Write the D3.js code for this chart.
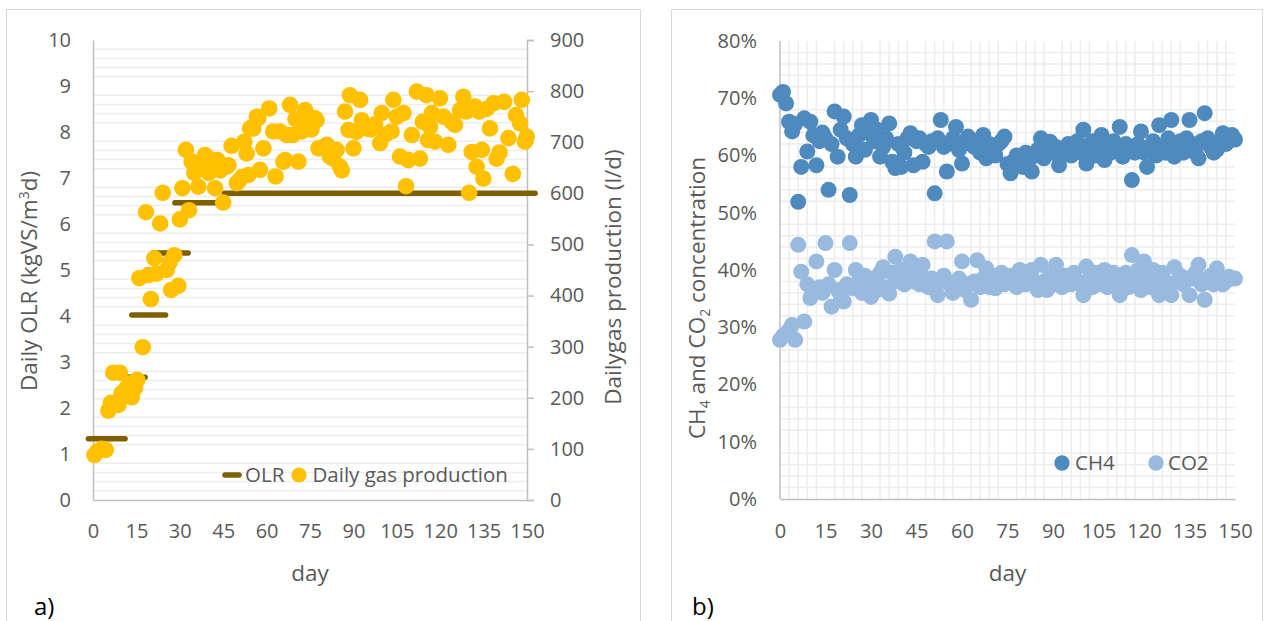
<!DOCTYPE html>
<html><head><meta charset="utf-8">
<script src="https://cdn.jsdelivr.net/npm/d3@7"></script>
<style>
html,body{margin:0;padding:0;background:#fff;}
svg{display:block;font-family:"Open Sans",sans-serif;}
</style></head>
<body>
<svg id="c" width="1267" height="621"></svg>
<script>
// ---------- DATA ----------
const dayTicks = [0,15,30,45,60,75,90,105,120,135,150];
const olrTicks = [0,1,2,3,4,5,6,7,8,9,10];
const gasTicks = [0,100,200,300,400,500,600,700,800,900];
const pctTicks = [0,0.1,0.2,0.3,0.4,0.5,0.6,0.7,0.8];

// OLR step segments (start day, end day, value)
const olrStart = [-1.6, 11.6, 13.4, 20.8, 28.3, 45.4];
const olrEnd   = [11.1, 18.0, 25.1, 32.9, 43.3, 152.8];
const olrValue = [1.33, 2.67, 4.02, 5.37, 6.46, 6.67];

// Daily gas production (l/d)
const gasDays = [0.5,1.5,3,4.4,5.3,6.2,7,8.8,9.3,9.9,11.6,12.5,13.4,14.5,15.3,16,17.2,18.3,19.1,20,
 21.2,22,23.2,24.1,25.5,26.5,27,28.1,29.5,30,30.9,32.1,33.2,34.1,35,36.4,37.5,38.7,39.3,40,
 41,42.2,43,44,45,46.2,46.8,47.9,49.7,50.5,51.5,52.3,53.1,53.7,54.3,55.4,56.6,57.1,57.7,58.9,
 60.9,62.3,63.1,64.6,65.8,66.4,67,68.1,69,70,71,72.1,72.7,73.3,74.5,75.5,76.7,77.3,77.9,79.5,
 80.8,81.9,83,84.2,85.4,86,87.1,88.3,88.8,90,91,92.3,92.9,94.6,96,97.5,99.2,99.8,101,103.2,
 103.8,105,106.1,107.3,108.2,109,110.2,111.9,113,114,115.3,115.8,116.5,117.1,118.2,119.9,121.1,122.8,124,125.1,
 126.9,128,129,130,130.9,132,132.6,133.5,134.4,134.9,136,137.2,138.4,139.5,140.5,142.1,143.6,145.1,146.2,147.6,
 148.2,149.3,149.9];
const gasValues = [88,95,100,98,175,190,249,186,249,209,219,228,201,219,235,434,299,563,440,393,
 473,443,541,601,450,465,411,479,419,549,610,685,567,662,640,613,650,675,672,640,
 655,610,665,645,582,652,655,693,620,625,632,701,678,636,727,727,750,747,646,688,
 766,721,633,721,662,665,714,773,714,745,662,721,747,763,740,725,747,743,688,690,
 695,672,668,685,652,645,760,724,792,688,720,783,743,727,725,735,698,757,715,721,
 783,750,672,757,614,665,714,799,668,740,792,704,730,757,701,786,750,695,740,734,
 763,789,760,601,681,770,652,760,685,629,765,727,776,668,680,779,708,638,753,737,
 783,701,711];

// CH4 and CO2 concentration (%), one value per day 0..150
const concDays = [0,1,2,3,4,5,6,7,8,9,10,11,12,13,14,15,16,17,18,19,20,21,22,23,24,25,26,27,28,29,
 30,31,32,33,34,35,36,37,38,39,40,41,42,43,44,45,46,47,48,49,50,51,52,53,54,55,56,57,58,59,
 60,61,62,63,64,65,66,67,68,69,70,71,72,73,74,75,76,77,78,79,80,81,82,83,84,85,86,87,88,89,
 90,91,92,93,94,95,96,97,98,99,100,101,102,103,104,105,106,107,108,109,110,111,112,113,114,115,116,117,118,119,
 120,121,122,123,124,125,126,127,128,129,130,131,132,133,134,135,136,137,138,139,140,141,142,143,144,145,146,147,148,149,150];
const ch4Values = [70.6,71.1,69.1,65.9,64.2,65.5,51.9,58.0,66.5,60.7,
 65.9,63.5,58.3,62.5,64.0,63.0,54.0,62.0,67.7,59.8,
 64.5,66.8,63.0,53.1,62.0,59.8,63.5,65.3,61.0,64.0,
 66.2,62.5,64.5,59.8,61.5,63.0,65.6,58.9,57.8,62.0,
 58.0,60.5,63.0,63.9,58.3,62.5,63.0,58.9,62.0,61.5,
 62.5,53.4,63.0,66.2,61.5,57.2,62.1,63.0,65.0,61.0,
 58.6,62.5,63.3,62.0,61.5,62.5,60.5,63.6,59.5,62.0,
 61.5,60.0,62.0,62.5,63.3,58.5,56.9,59.0,60.0,59.8,
 58.0,60.5,59.0,57.2,60.0,61.0,63.0,59.5,61.5,62.4,
 60.5,61.5,58.3,60.5,61.0,62.0,60.0,61.5,62.5,60.5,
 64.5,58.6,61.5,62.5,60.0,61.5,63.6,59.2,62.0,60.5,
 62.5,61.0,65.0,59.8,62.0,61.0,55.7,60.5,62.0,64.2,
 60.5,58.0,61.5,62.5,60.0,65.3,61.0,60.5,63.0,66.2,
 59.8,61.5,62.5,60.5,63.0,66.2,62.0,60.5,59.5,62.5,
 67.4,63.0,61.5,60.5,61.0,62.5,63.9,62.0,62.5,63.6,
 62.8];
const co2Values = [27.8,28.5,28.9,29.5,30.4,27.8,44.4,39.7,31.0,37.5,
 35.1,36.5,41.5,37.0,36.0,44.7,37.5,33.6,40.0,36.5,
 35.5,34.5,37.5,44.7,36.8,40.0,38.0,36.0,39.0,37.5,
 35.3,38.5,36.5,39.5,40.5,37.0,35.9,39.5,42.3,38.0,
 40.0,37.5,39.0,41.5,38.0,39.5,37.5,40.9,38.5,37.0,
 38.5,45.0,35.6,38.0,39.0,45.0,37.5,36.0,37.5,38.5,
 41.5,36.5,37.5,34.8,38.0,41.7,37.0,38.5,40.3,37.0,
 39.0,36.8,38.0,39.5,37.5,38.0,39.0,38.8,37.0,40.0,
 38.5,37.5,39.5,40.0,38.0,36.5,40.9,38.0,36.5,39.0,
 37.5,40.9,38.5,37.0,39.0,38.0,37.5,39.5,38.0,37.5,
 35.6,40.6,38.5,37.0,39.5,37.5,38.5,40.0,37.0,38.0,
 39.5,37.5,35.6,38.5,39.5,37.0,42.6,38.5,40.0,36.5,
 41.5,38.5,37.0,40.0,38.0,35.6,39.5,38.0,37.0,35.6,
 40.5,38.0,39.0,37.5,38.5,35.6,38.5,39.5,40.9,37.5,
 34.8,38.0,39.0,37.5,40.3,38.5,37.5,38.0,38.8,38.5,
 38.5];

// ---------- STYLE ----------
const C = {text:"#595959", axis:"#bfbfbf", grid:"#ededed", gas:"#FFC000", olr:"#7F6000", ch4:"#4E8ABE", co2:"#98BADF"};
const svg = d3.select("#c");

// panel frames
svg.append("rect").attr("x",6.5).attr("y",9.5).attr("width",634).attr("height",640)
  .attr("fill","none").attr("stroke","#d9d9d9").attr("stroke-width",1);
svg.append("rect").attr("x",671.5).attr("y",9.5).attr("width",591).attr("height",640)
  .attr("fill","none").attr("stroke","#d9d9d9").attr("stroke-width",1);

function styleAxis(g, size){
  g.selectAll("path.domain").attr("stroke",C.axis).attr("stroke-width",1.5);
  g.selectAll("line").attr("stroke",C.axis).attr("stroke-width",1.5);
  g.selectAll("text").attr("fill",C.text).attr("font-size",size).attr("font-family","Open Sans");
}

// ================= PANEL A =================
const xA = d3.scaleLinear().domain([0,150]).range([93,527]);
const yO = d3.scaleLinear().domain([0,10]).range([500,40]);
const yG = d3.scaleLinear().domain([0,900]).range([500,40]);

// minor gridlines every 0.2 (skip integers)
const gA = svg.append("g");
d3.range(1,50).filter(i=>i%5!==0).forEach(i=>{
  const v=i/5;
  gA.append("line").attr("x1",xA(0)).attr("x2",xA(150)).attr("y1",yO(v)).attr("y2",yO(v))
    .attr("stroke",C.grid).attr("stroke-width",1.5);
});

// axes
const axL = svg.append("g").attr("transform",`translate(${xA(0)},0)`)
  .call(d3.axisLeft(yO).tickValues(olrTicks).tickSize(0).tickPadding(22).tickFormat(d3.format("d")));
styleAxis(axL,20);
const axR = svg.append("g").attr("transform",`translate(${xA(150)},0)`)
  .call(d3.axisRight(yG).tickValues(gasTicks).tickSize(7).tickSizeOuter(7).tickPadding(16).tickFormat(d3.format("d")));
styleAxis(axR,20);
const axB = svg.append("g").attr("transform",`translate(0,${yO(0)})`)
  .call(d3.axisBottom(xA).tickValues(dayTicks).tickSize(0).tickPadding(24));
styleAxis(axB,20);

// OLR segments
const olrSeg = olrValue.map((v,i)=>({s:olrStart[i],e:olrEnd[i],v}));
svg.append("g").selectAll("line").data(olrSeg).join("line")
  .attr("x1",d=>xA(d.s)).attr("x2",d=>xA(d.e)).attr("y1",d=>yO(d.v)).attr("y2",d=>yO(d.v))
  .attr("stroke",C.olr).attr("stroke-width",5.5).attr("stroke-linecap","round");

// gas points
const gas = gasDays.map((d,i)=>({d,v:gasValues[i]}));
svg.append("g").selectAll("circle").data(gas).join("circle")
  .attr("cx",d=>xA(d.d)).attr("cy",d=>yG(d.v)).attr("r",8.3).attr("fill",C.gas);

// legend A
svg.append("line").attr("x1",225).attr("x2",239).attr("y1",475).attr("y2",475)
  .attr("stroke",C.olr).attr("stroke-width",5.5).attr("stroke-linecap","round");
svg.append("text").attr("x",245).attr("y",482).text("OLR").attr("fill",C.text).attr("font-size",20.5);
svg.append("circle").attr("cx",299).attr("cy",475).attr("r",7.6).attr("fill",C.gas);
svg.append("text").attr("x",312.5).attr("y",482).text("Daily gas production").attr("fill",C.text).attr("font-size",20.5);

// titles A
svg.append("text").attr("x",xA(75)).attr("y",581).attr("text-anchor","middle")
  .attr("fill",C.text).attr("font-size",22.5).text("day");
const tL = svg.append("text").attr("transform","translate(29,281) rotate(-90)").attr("text-anchor","middle")
  .attr("dy","0.35em").attr("fill",C.text).attr("font-size",22.5);
tL.append("tspan").text("Daily OLR (kgVS/m");
tL.append("tspan").attr("font-size",14).attr("dy",-8).text("3");
tL.append("tspan").attr("dy",8).text("d)");
svg.append("text").attr("transform","translate(613,277) rotate(-90)").attr("text-anchor","middle")
  .attr("dy","0.35em").attr("fill",C.text).attr("font-size",22.5).text("Dailygas production (l/d)");
svg.append("text").attr("x",34).attr("y",615).attr("fill","#000").attr("font-size",24).text("a)");

// ================= PANEL B =================
const xB = d3.scaleLinear().domain([0,150]).range([780,1235]);
const yP = d3.scaleLinear().domain([0,0.8]).range([499,41]);

const gB = svg.append("g");
d3.range(1,40).filter(i=>i%5!==0).forEach(i=>{
  const v=i*0.02;
  gB.append("line").attr("x1",xB(0)).attr("x2",xB(150)).attr("y1",yP(v)).attr("y2",yP(v))
    .attr("stroke",C.grid).attr("stroke-width",1.5);
});
d3.range(1,50).filter(i=>i%5!==0).forEach(i=>{
  const v=i*3;
  gB.append("line").attr("x1",xB(v)).attr("x2",xB(v)).attr("y1",yP(0)).attr("y2",yP(0.8))
    .attr("stroke",C.grid).attr("stroke-width",1.5);
});

const bxL = svg.append("g").attr("transform",`translate(${xB(0)},0)`)
  .call(d3.axisLeft(yP).tickValues(pctTicks).tickSize(0).tickPadding(23).tickFormat(d3.format(".0%")));
styleAxis(bxL,20);
bxL.select("path.domain").remove();
svg.append("line").attr("x1",xB(0)).attr("x2",xB(0)).attr("y1",yP(0)).attr("y2",yP(0.8))
  .attr("stroke",C.axis).attr("stroke-width",1.5);
const bxB = svg.append("g").attr("transform",`translate(0,${yP(0)})`)
  .call(d3.axisBottom(xB).tickValues(dayTicks).tickSize(0).tickPadding(25));
styleAxis(bxB,20);

const ch4 = concDays.map((d,i)=>({d,v:ch4Values[i]/100}));
const co2 = concDays.map((d,i)=>({d,v:co2Values[i]/100}));
svg.append("g").selectAll("circle").data(ch4).join("circle")
  .attr("cx",d=>xB(d.d)).attr("cy",d=>yP(d.v)).attr("r",8).attr("fill",C.ch4);
svg.append("g").selectAll("circle").data(co2).join("circle")
  .attr("cx",d=>xB(d.d)).attr("cy",d=>yP(d.v)).attr("r",8).attr("fill",C.co2);

// legend B
svg.append("circle").attr("cx",1062).attr("cy",463).attr("r",7.7).attr("fill",C.ch4);
svg.append("text").attr("x",1075).attr("y",470).text("CH4").attr("fill",C.text).attr("font-size",20.5);
svg.append("circle").attr("cx",1156).attr("cy",463).attr("r",7.7).attr("fill",C.co2);
svg.append("text").attr("x",1168).attr("y",470).text("CO2").attr("fill",C.text).attr("font-size",20.5);

// titles B
svg.append("text").attr("x",xB(75)).attr("y",581).attr("text-anchor","middle")
  .attr("fill",C.text).attr("font-size",22.5).text("day");
const tB = svg.append("text").attr("transform","translate(697,298) rotate(-90)").attr("text-anchor","middle")
  .attr("dy","0.35em").attr("fill",C.text).attr("font-size",22.5);
tB.append("tspan").text("CH");
tB.append("tspan").attr("font-size",14).attr("dy",5).text("4");
tB.append("tspan").attr("dy",-5).text(" and CO");
tB.append("tspan").attr("font-size",14).attr("dy",5).text("2");
tB.append("tspan").attr("dy",-5).text(" concentration");
svg.append("text").attr("x",692).attr("y",615).attr("fill","#000").attr("font-size",24).text("b)");
</script>
</body></html>
